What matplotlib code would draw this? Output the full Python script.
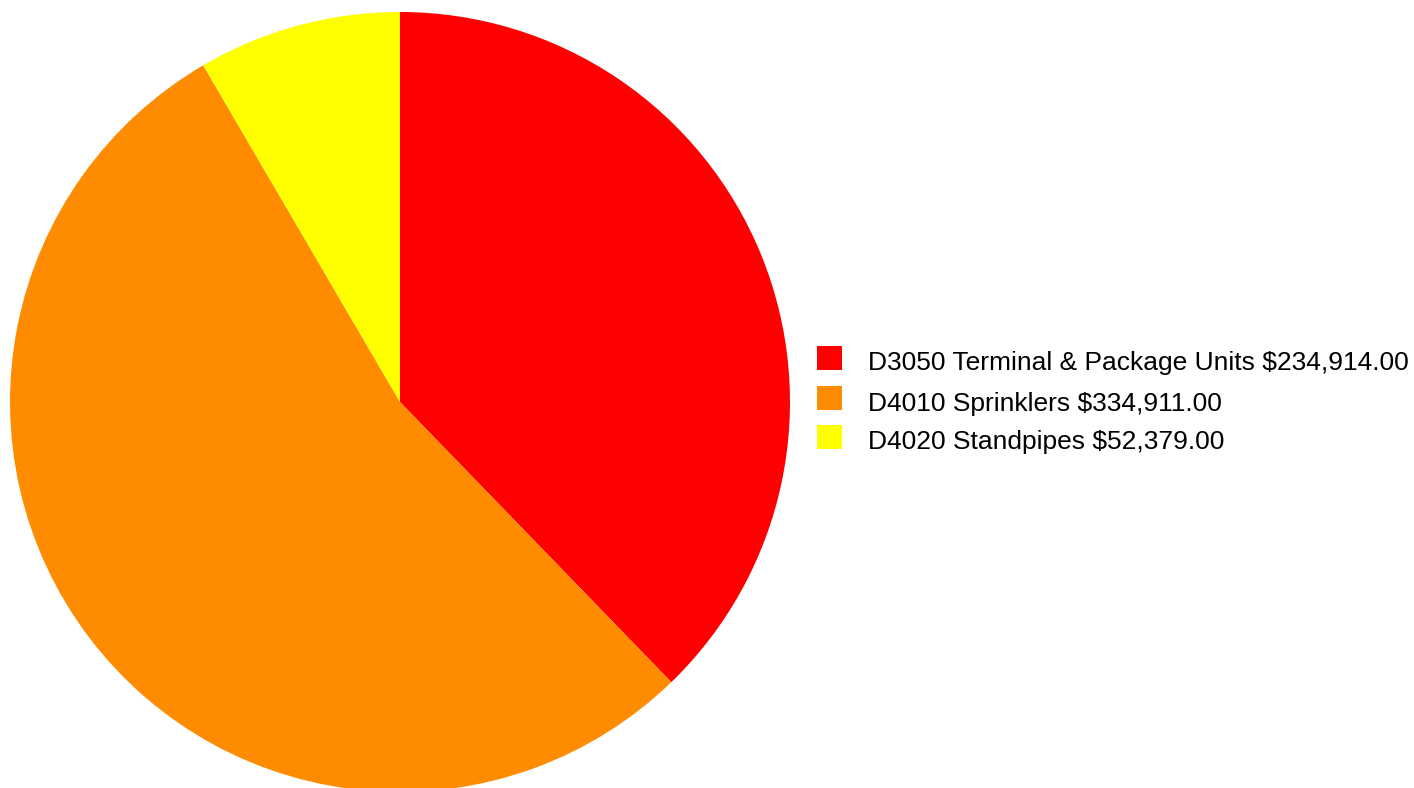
import matplotlib
matplotlib.use("Agg")
import matplotlib.pyplot as plt
from matplotlib.patches import Rectangle

categories = ["D3050 Terminal & Package Units", "D4010 Sprinklers", "D4020 Standpipes"]
values = [234914.00, 334911.00, 52379.00]
colors = ["#ff0000", "#ff8c00", "#ffff00"]

W, H = 1414, 788
fig = plt.figure(figsize=(W / 100, H / 100), dpi=100)
fig.patch.set_facecolor("white")

# pie axes: center (400, 402) px from top, radius 390 px
cx, cy, r = 400, 402, 390
ax = fig.add_axes([(cx - r) / W, (H - cy - r) / H, 2 * r / W, 2 * r / H])
ax.pie(values, colors=colors, startangle=90, counterclock=False,
       wedgeprops=dict(linewidth=0, edgecolor="none", antialiased=True))
ax.set_xlim(-1, 1)
ax.set_ylim(-1, 1)
ax.set_aspect("auto")
ax.axis("off")

# legend
row_centers = [358, 398, 437]
for lab, val, col, yc in zip(categories, values, colors, row_centers):
    fig.patches.append(Rectangle((817 / W, (H - yc - 12) / H), 25 / W, 24 / H,
                                 transform=fig.transFigure, facecolor=col,
                                 edgecolor="none", figure=fig))
    fig.text(868 / W, (H - yc - 3) / H, f"{lab} ${val:,.2f}", fontsize=19,
             family="Liberation Sans", va="center_baseline", ha="left", color="black")

fig.savefig("out.png", dpi=100)
